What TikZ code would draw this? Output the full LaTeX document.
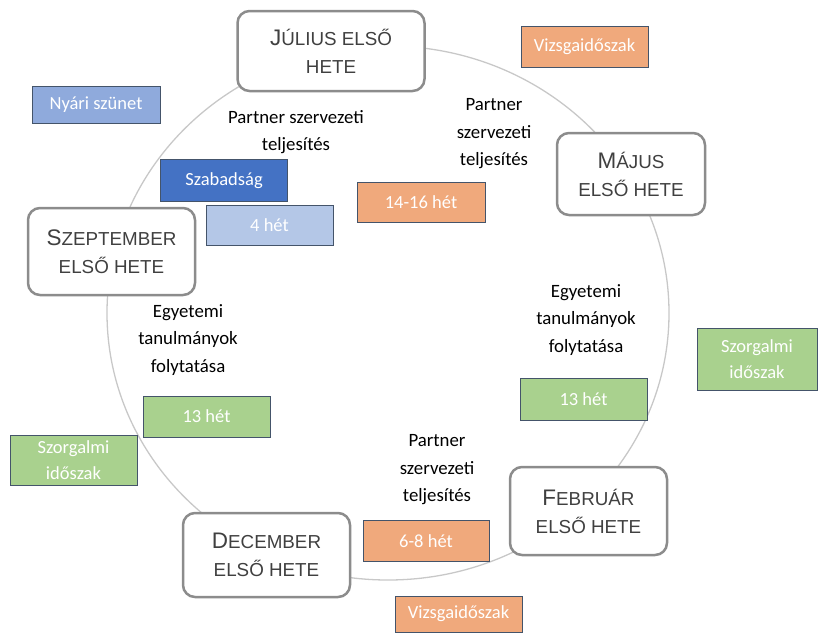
\documentclass[tikz,border=0pt]{standalone}
\usepackage{fontspec}
\setmainfont{Carlito}
\newfontfamily\monthfont{Liberation Sans}
\usetikzlibrary{shapes.geometric}
\definecolor{ringgray}{HTML}{C8C8C8}
\definecolor{boxgray}{HTML}{8C8C8C}
\definecolor{monthtext}{HTML}{404040}
\definecolor{orangefill}{HTML}{F0A97C}
\definecolor{greenfill}{HTML}{A9D18E}
\definecolor{bluefill}{HTML}{8FAADC}
\definecolor{darkblue}{HTML}{4472C4}
\definecolor{lightblue}{HTML}{B4C7E7}
\definecolor{edgeblue}{HTML}{44546A}
\newcommand{\BigInit}[1]{{\fontsize{22.5}{22.5}\selectfont #1}}
\tikzset{
  month/.style={draw=boxgray, line width=2.5pt, fill=white, rounded corners=12pt,
    align=center, inner sep=0pt, text=monthtext,
    font=\monthfont\fontsize{18.8}{28}\selectfont},
  tag/.style={draw=edgeblue, line width=0.8pt, align=center, inner sep=0pt,
    text=white, font=\fontsize{18.5}{26}\selectfont},
  orangebox/.style={tag, fill=orangefill},
  greenbox/.style={tag, fill=greenfill},
  note/.style={align=center, inner sep=0pt, text=black, font=\fontsize{18.8}{27.5}\selectfont}
}
\begin{document}
\begin{tikzpicture}[x=1pt, y=-1pt]
\useasboundingbox (0,0) rectangle (818,632);
\node[ellipse, draw=ringgray, line width=1.3pt, minimum width=562pt, minimum height=534pt, inner sep=0pt] (ring) at (388,313) {};

% month boxes
\node[month, minimum width=187pt, minimum height=80pt] (jul) at (331,51) {\BigInit{J}ÚLIUS ELSŐ\\HETE};
\node[month, minimum width=148pt, minimum height=82pt] (maj) at (631,174) {\BigInit{M}ÁJUS\\ELSŐ HETE};
\node[month, minimum width=167pt, minimum height=87pt] (szep) at (111.5,251.5) {\BigInit{S}ZEPTEMBER\\ELSŐ HETE};
\node[month, minimum width=157pt, minimum height=88pt] (feb) at (588.5,511) {\BigInit{F}EBRUÁR\\ELSŐ HETE};
\node[month, minimum width=167pt, minimum height=84pt] (dec) at (266.5,555) {\BigInit{D}ECEMBER\\ELSŐ HETE};

% coloured tags
\node[orangebox, minimum width=127pt, minimum height=41pt] (vizs1) at (584.5,46.5) {Vizsgaidőszak};
\node[tag, fill=bluefill, minimum width=128pt, minimum height=37pt] (nyari) at (96,104.5) {Nyári szünet};
\node[tag, fill=darkblue, minimum width=127pt, minimum height=42pt] (szab) at (224,180.5) {Szabadság};
\node[tag, fill=lightblue, minimum width=127pt, minimum height=40pt] (het4) at (269.5,225) {4 hét};
\node[orangebox, minimum width=128pt, minimum height=40pt] (h1416) at (421,202.5) {14-16 hét};
\node[greenbox, minimum width=120pt, minimum height=62pt] (szorgr) at (757,359) {Szorgalmi\\időszak};
\node[greenbox, minimum width=127pt, minimum height=42pt] (h13r) at (583.5,399) {13 hét};
\node[greenbox, minimum width=127pt, minimum height=41pt] (h13l) at (206.5,416.5) {13 hét};
\node[greenbox, minimum width=127pt, minimum height=50pt] (szorgl) at (73.5,460) {Szorgalmi\\időszak};
\node[orangebox, minimum width=126pt, minimum height=41pt] (h68) at (426,541) {6-8 hét};
\node[orangebox, minimum width=127pt, minimum height=36pt] (vizs2) at (458.5,614) {Vizsgaidőszak};

% notes
\node[note] (ptop) at (296,132) {Partner szervezeti\\teljesítés};
\node[note] (pright) at (494,134) {Partner\\szervezeti\\teljesítés};
\node[note] (eright) at (586,320) {Egyetemi\\tanulmányok\\folytatása};
\node[note] (eleft) at (188,340) {Egyetemi\\tanulmányok\\folytatása};
\node[note] (pbottom) at (437,470) {Partner\\szervezeti\\teljesítés};
\end{tikzpicture}
\end{document}
